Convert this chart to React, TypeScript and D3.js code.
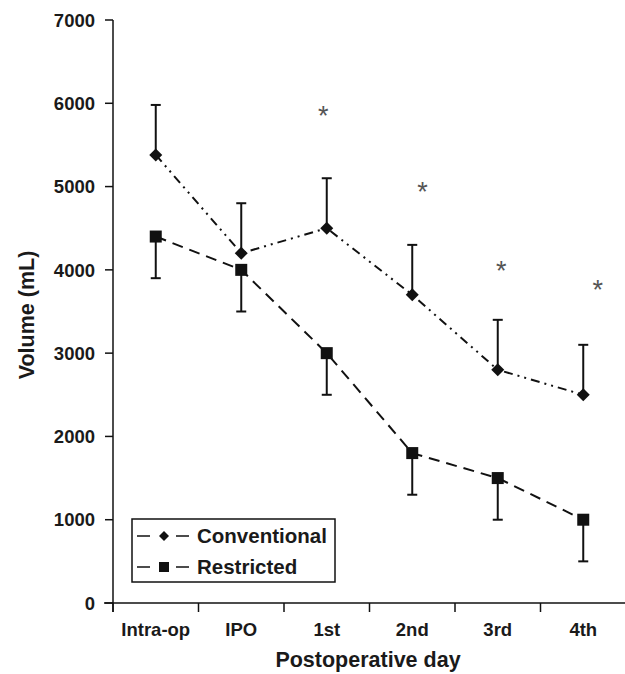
import React from "react";
import * as d3 from "d3";

const categories = ["Intra-op", "IPO", "1st", "2nd", "3rd", "4th"];
const conventional = [5380, 4200, 4500, 3700, 2800, 2500];
const conventionalErr = [600, 600, 600, 600, 600, 600];
const restricted = [4400, 4000, 3000, 1800, 1500, 1000];
const restrictedErr = [500, 500, 500, 500, 500, 500];
const yTicks = [0, 1000, 2000, 3000, 4000, 5000, 6000, 7000];
// significance markers: category index (fractional) and value
const starPos = [1.96, 3.12, 4.04, 5.17];
const starVal = [5890, 4970, 4030, 3790];

const W = 625;
const H = 674;
const left = 113;
const right = 626;
const top = 20;
const bottom = 603;
const font = "Liberation Sans, Arial, Helvetica, sans-serif";

export default function App() {
  const x = d3.scaleBand<string>().domain(categories).range([left, right]).padding(0);
  const y = d3.scaleLinear().domain([0, 7000]).range([bottom, top]);
  const cx = (i: number) => (x(categories[i]) as number) + x.bandwidth() / 2;
  const cxf = (f: number) => left + x.bandwidth() * (f + 0.5);

  const line = d3
    .line<number>()
    .x((_, i) => cx(i))
    .y((d) => y(d));

  const diamond = (px: number, py: number, r: number) =>
    `M${px},${py - r}L${px + r},${py}L${px},${py + r}L${px - r},${py}Z`;

  const tickXs = d3.range(categories.length + 1).map((i) => left + i * x.bandwidth());

  return (
    <svg width={W} height={H} style={{ position: "absolute", left: 0, top: 0 }} fontFamily={font}>
      <rect width={W} height={H} fill="#fff" />
      {/* axes */}
      <line x1={left} x2={left} y1={top} y2={bottom + 9} stroke="#111" strokeWidth={1.5} />
      <line x1={left - 9} x2={right} y1={bottom} y2={bottom} stroke="#111" strokeWidth={1.5} />
      {yTicks.map((t) => (
        <g key={t}>
          <line x1={left - 8} x2={left} y1={y(t)} y2={y(t)} stroke="#111" strokeWidth={1.5} />
          <text x={left - 18} y={y(t)} dy="0.36em" textAnchor="end" fontSize={18.5} fontWeight="bold" fill="#1a1a1a">
            {t}
          </text>
        </g>
      ))}
      {tickXs.map((tx, i) => (
        <line key={i} x1={tx} x2={tx} y1={bottom} y2={bottom + 9} stroke="#111" strokeWidth={1.5} />
      ))}
      {categories.map((c, i) => (
        <text key={c} x={cx(i)} y={636} textAnchor="middle" fontSize={18.5} fontWeight="bold" fill="#1a1a1a">
          {c}
        </text>
      ))}
      <text x={368} y={667} textAnchor="middle" fontSize={21.5} fontWeight="bold" fill="#1a1a1a">
        Postoperative day
      </text>
      <text
        transform={`translate(34,315) rotate(-90)`}
        textAnchor="middle"
        fontSize={21.5}
        fontWeight="bold"
        fill="#1a1a1a"
      >
        Volume (mL)
      </text>

      {/* error bars */}
      {conventional.map((v, i) => (
        <g key={"ce" + i} stroke="#111" strokeWidth={2}>
          <line x1={cx(i)} x2={cx(i)} y1={y(v)} y2={y(v + conventionalErr[i])} />
          <line x1={cx(i) - 5} x2={cx(i) + 5} y1={y(v + conventionalErr[i])} y2={y(v + conventionalErr[i])} />
        </g>
      ))}
      {restricted.map((v, i) => (
        <g key={"re" + i} stroke="#111" strokeWidth={2}>
          <line x1={cx(i)} x2={cx(i)} y1={y(v)} y2={y(v - restrictedErr[i])} />
          <line x1={cx(i) - 5} x2={cx(i) + 5} y1={y(v - restrictedErr[i])} y2={y(v - restrictedErr[i])} />
        </g>
      ))}

      {/* lines */}
      <path d={line(conventional) || ""} fill="none" stroke="#111" strokeWidth={2} strokeDasharray="9,5,2,5,2,5" />
      <path d={line(restricted) || ""} fill="none" stroke="#111" strokeWidth={2} strokeDasharray="11,7" />

      {/* markers */}
      {conventional.map((v, i) => (
        <path key={"cm" + i} d={diamond(cx(i), y(v), 6.5)} fill="#111" />
      ))}
      {restricted.map((v, i) => (
        <rect key={"rm" + i} x={cx(i) - 6} y={y(v) - 6} width={12} height={12} fill="#111" />
      ))}

      {/* asterisks */}
      {starPos.map((p, i) => (
        <text key={"s" + i} x={cxf(p)} y={y(starVal[i])} dy="0.45em" textAnchor="middle" fontSize={27} fill="#555">
          *
        </text>
      ))}

      {/* legend */}
      <rect x={132} y={519} width={203} height={63} fill="#fff" stroke="#111" strokeWidth={1.5} />
      <g stroke="#111" strokeWidth={1.5}>
        <line x1={137} x2={150} y1={536} y2={536} />
        <line x1={176} x2={189} y1={536} y2={536} />
        <line x1={137} x2={150} y1={567} y2={567} />
        <line x1={176} x2={189} y1={567} y2={567} />
      </g>
      <path d={diamond(164, 536, 5)} fill="#111" />
      <rect x={159} y={562} width={10} height={10} fill="#111" />
      <text x={197} y={543} fontSize={20.5} fontWeight="bold" fill="#1a1a1a">
        Conventional
      </text>
      <text x={197} y={574} fontSize={20.5} fontWeight="bold" fill="#1a1a1a">
        Restricted
      </text>
    </svg>
  );
}
